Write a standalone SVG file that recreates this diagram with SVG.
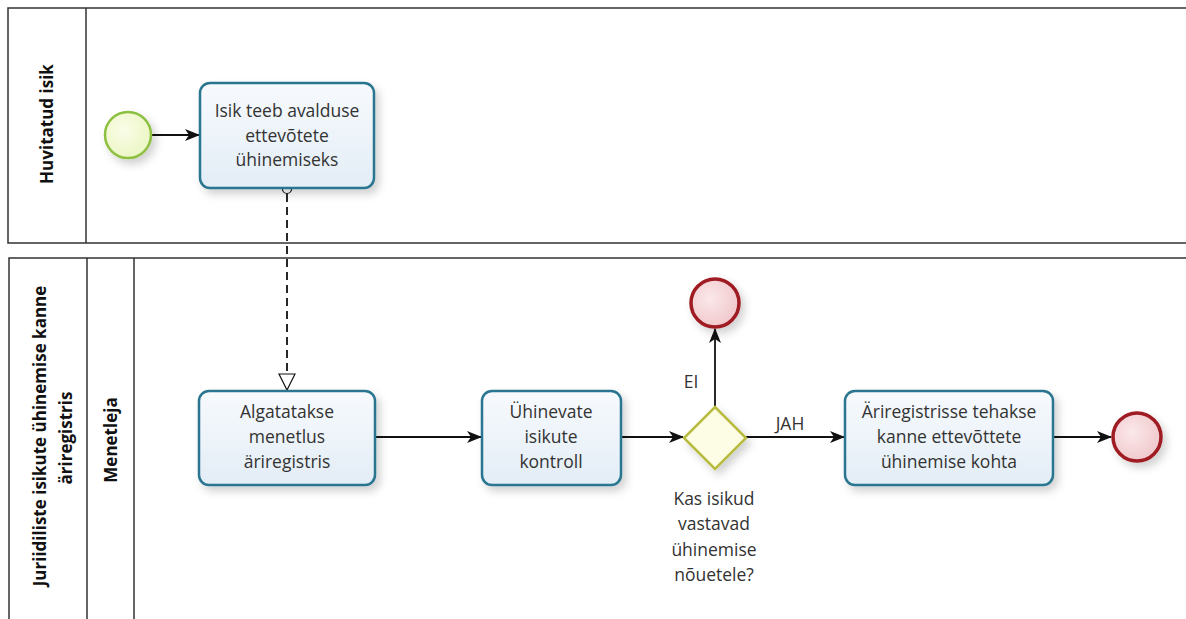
<svg xmlns="http://www.w3.org/2000/svg" width="1186" height="619" viewBox="0 0 1186 619">
<style>
.pool{fill:none;stroke:#333;stroke-width:1.5}
.task{fill:url(#tg);stroke:#2a7490;stroke-width:2.5}
.tt{font-family:"Open Sans","Noto Sans",sans-serif;font-size:17.5px;fill:#333;text-anchor:middle}
.lbl{font-family:"Open Sans","Noto Sans",sans-serif;font-size:17px;font-weight:bold;fill:#111;text-anchor:middle}
.flow{fill:none;stroke:#111;stroke-width:1.8}
.end{fill:url(#eg);stroke:#9e1b24;stroke-width:3.5}
</style>
<defs>
<linearGradient id="tg" x1="0" y1="0" x2="0" y2="1"><stop offset="0" stop-color="#f7fafd"/><stop offset="1" stop-color="#e3edf6"/></linearGradient>
<radialGradient id="eg" cx="0.4" cy="0.4" r="0.7"><stop offset="0" stop-color="#fbe8ea"/><stop offset="1" stop-color="#efc4c8"/></radialGradient>
<radialGradient id="sg" cx="0.4" cy="0.4" r="0.7"><stop offset="0" stop-color="#fafde8"/><stop offset="1" stop-color="#eaf5c0"/></radialGradient>
<filter id="sh" x="-20%" y="-20%" width="150%" height="150%"><feDropShadow dx="4" dy="5" stdDeviation="4" flood-color="#000" flood-opacity="0.18"/></filter>
<marker id="ar" viewBox="0 0 15 12" refX="14" refY="6" markerWidth="15" markerHeight="12" markerUnits="userSpaceOnUse" orient="auto"><path d="M0,0 L15,6 L0,12 L4,6 Z" fill="#111"/></marker>
<marker id="oa" viewBox="0 0 18 22" refX="17" refY="9" markerWidth="18" markerHeight="22" markerUnits="userSpaceOnUse" orient="auto"><path d="M1,1 L17,9 L1,17 Z" fill="#fff" stroke="#111" stroke-width="1.2"/></marker>
</defs>
<rect width="1186" height="619" fill="#fff"/>
<g id="pool-huvitatud">
<path class="pool" d="M1190,8 H8 V243 H1190 M86,8 V243"/>
<text class="lbl" transform="translate(53,124) rotate(-90)">Huvitatud isik</text>
</g>
<g id="pool-juriidiliste">
<path class="pool" d="M1190,258 H9 V625 M87,258 V625 M134,258 V625"/>
<text class="lbl" transform="translate(46,436) rotate(-90)">Juriidiliste isikute ühinemise kanne</text>
<text class="lbl" transform="translate(72,438) rotate(-90)">äriregistris</text>
<text class="lbl" transform="translate(117,440) rotate(-90)">Menetleja</text>
</g>
<g id="connectors">
<line class="flow" x1="151" y1="135" x2="199" y2="135" marker-end="url(#ar)"/>
<line class="flow" x1="287" y1="194" x2="287" y2="390" stroke-dasharray="8,5" marker-end="url(#oa)"/>
<circle cx="287" cy="189" r="4.5" fill="#fff" stroke="#111" stroke-width="1.2"/>
<line class="flow" x1="375" y1="437" x2="481" y2="437" marker-end="url(#ar)"/>
<line class="flow" x1="621" y1="437" x2="683" y2="437" marker-end="url(#ar)"/>
<line class="flow" x1="715" y1="407" x2="715" y2="329" marker-end="url(#ar)"/>
<line class="flow" x1="746" y1="437" x2="844" y2="437" marker-end="url(#ar)"/>
<line class="flow" x1="1053" y1="437" x2="1111" y2="437" marker-end="url(#ar)"/>
<text class="tt" x="691" y="388">EI</text>
<text class="tt" x="790" y="430">JAH</text>
</g>
<g id="start">
<circle cx="128" cy="135" r="23" fill="url(#sg)" stroke="#8dc040" stroke-width="2.5" filter="url(#sh)"/>
</g>
<g id="task-avaldus">
<rect class="task" x="200" y="83" width="174" height="105" rx="10" filter="url(#sh)"/>
<text class="tt" x="287" y="117">Isik teeb avalduse</text>
<text class="tt" x="287" y="142">ettevõtete</text>
<text class="tt" x="287" y="166">ühinemiseks</text>
</g>
<g id="task-algatatakse">
<rect class="task" x="199" y="391" width="176" height="94" rx="10" filter="url(#sh)"/>
<text class="tt" x="287" y="418">Algatatakse</text>
<text class="tt" x="287" y="443">menetlus</text>
<text class="tt" x="287" y="468">äriregistris</text>
</g>
<g id="task-kontroll">
<rect class="task" x="482" y="391" width="139" height="94" rx="10" filter="url(#sh)"/>
<text class="tt" x="551" y="418">Ühinevate</text>
<text class="tt" x="551" y="443">isikute</text>
<text class="tt" x="551" y="468">kontroll</text>
</g>
<g id="gateway">
<path d="M715,407 L746,438 L715,469 L684,438 Z" fill="#fdfde6" stroke="#b8bb3c" stroke-width="2.5" filter="url(#sh)"/>
<text class="tt" x="714" y="505">Kas isikud</text>
<text class="tt" x="714" y="530">vastavad</text>
<text class="tt" x="714" y="556">ühinemise</text>
<text class="tt" x="714" y="581">nõuetele?</text>
</g>
<g id="end-ei">
<circle class="end" cx="715" cy="303" r="24" filter="url(#sh)"/>
</g>
<g id="task-kanne">
<rect class="task" x="845" y="391" width="208" height="94" rx="10" filter="url(#sh)"/>
<text class="tt" x="949" y="418">Äriregistrisse tehakse</text>
<text class="tt" x="949" y="443">kanne ettevõttete</text>
<text class="tt" x="949" y="468">ühinemise kohta</text>
</g>
<g id="end-jah">
<circle class="end" cx="1137" cy="437" r="24" filter="url(#sh)"/>
</g>
</svg>
